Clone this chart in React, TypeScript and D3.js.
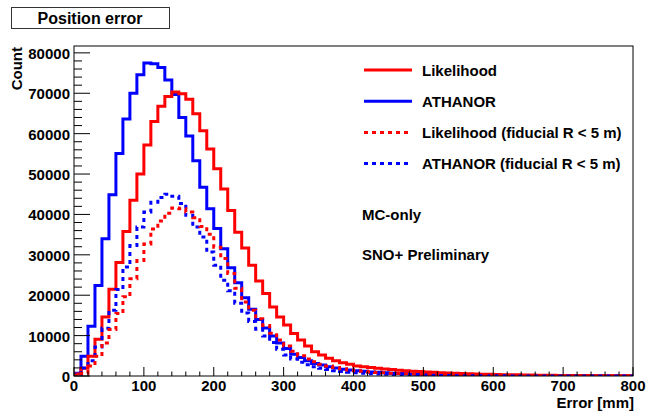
import React from "react";
import * as d3 from "d3";

// bin edges: 0..800 mm in 10 mm bins
const binWidth = 10;
const xTicks = [0, 100, 200, 300, 400, 500, 600, 700, 800];
const yTicks = [0, 10000, 20000, 30000, 40000, 50000, 60000, 70000, 80000];

const likelihood = [
  500, 1900, 4900, 9100, 14600, 21500, 28100, 35800, 43500, 50000,
  57200, 63000, 66800, 69200, 70300, 69900, 68500, 64900, 60700, 56200,
  51300, 46300, 41000, 35600, 31700, 27400, 23500, 20400, 17100, 14600,
  12600, 10500, 8900, 7400, 6000, 5200, 4400, 3800, 3300, 2900,
  2500, 2300, 2100, 1900, 1750, 1600, 1450, 1300, 1200, 1100,
  1000, 900, 820, 750, 680, 620, 560, 510, 460, 420,
  380, 340, 310, 280, 250, 230, 210, 190, 170, 150,
  140, 125, 110, 100, 90, 80, 72, 65, 58, 52,
];

const athanor = [
  700, 4900, 12300, 22400, 34000, 44900, 55100, 63600, 70000, 74600,
  77500, 77300, 76400, 73300, 69700, 64000, 59400, 53300, 46700, 41400,
  36500, 31500, 26800, 23100, 19400, 16500, 14000, 11900, 9900, 8200,
  6800, 5400, 4600, 3800, 3100, 2700, 2300, 2000, 1700, 1500,
  1300, 1150, 1000, 900, 800, 700, 620, 550, 490, 430,
  380, 340, 300, 265, 235, 210, 185, 165, 145, 130,
  115, 100, 90, 80, 70, 62, 55, 48, 43, 38,
  34, 30, 26, 23, 20, 18, 16, 14, 12, 10,
];

const likelihoodFid = [
  200, 700, 2500, 4900, 8200, 11500, 15500, 19600, 24100, 28600,
  32700, 36400, 38400, 40300, 41600, 41400, 40600, 39200, 37000, 35100,
  31900, 29100, 25400, 21700, 18300, 16300, 14200, 12500, 10600, 8900,
  7400, 6100, 5000, 4200, 3500, 2900, 2500, 2100, 1800, 1500,
  1300, 1150, 1000, 880, 780, 690, 610, 540, 480, 420,
  370, 330, 290, 255, 225, 200, 175, 155, 135, 120,
  105, 93, 82, 72, 64, 56, 50, 44, 39, 34,
  30, 27, 24, 21, 18, 16, 14, 12, 11, 10,
];

const athanorFid = [
  300, 2000, 3800, 7200, 11800, 16300, 21400, 27000, 32300, 36900,
  40600, 43000, 44200, 45000, 44500, 42700, 39800, 36900, 34400, 30700,
  27400, 23700, 21100, 18000, 15600, 13500, 11600, 9900, 8300, 6600,
  5200, 4200, 3400, 2800, 2300, 1900, 1600, 1300, 1100, 950,
  800, 680, 580, 500, 430, 370, 320, 275, 235, 200,
  170, 145, 125, 107, 92, 79, 68, 58, 50, 43,
  37, 32, 27, 23, 20, 17, 15, 13, 11, 9,
  8, 7, 6, 5, 4, 4, 3, 3, 2, 2,
];

const legendLabels = [
  "Likelihood",
  "ATHANOR",
  "Likelihood (fiducial R < 5 m)",
  "ATHANOR (fiducial R < 5 m)",
];

const font = "'Liberation Sans', Arial, Helvetica, sans-serif";

export default function App() {
  const x = d3.scaleLinear().domain([0, 800]).range([74, 633]);
  const y = d3.scaleLinear().domain([0, 81700]).range([376, 46]);

  const step = (vals: number[]) => {
    const pts: [number, number][] = [[0, 0]];
    vals.forEach((v, i) => {
      pts.push([i * binWidth, v]);
      pts.push([(i + 1) * binWidth, v]);
    });
    return d3.line<[number, number]>().x((d) => x(d[0])).y((d) => y(d[1]))(pts) || "";
  };

  const series = [
    { data: athanor, color: "#0000ff", dash: undefined },
    { data: likelihood, color: "#ff0000", dash: undefined },
    { data: athanorFid, color: "#0000ff", dash: "4 4" },
    { data: likelihoodFid, color: "#ff0000", dash: "4 4" },
  ];
  const legend = [
    { color: "#ff0000", dash: undefined },
    { color: "#0000ff", dash: undefined },
    { color: "#ff0000", dash: "4 4" },
    { color: "#0000ff", dash: "4 4" },
  ];

  const xMinor = d3.range(0, 801, 20);
  const yMinor = d3.range(0, 81001, 2000);

  return (
    <svg
      width={652}
      height={412}
      style={{ position: "absolute", left: 0, top: 0, background: "#fff" }}
      fontFamily={font}
      fontWeight="bold"
    >
      <rect x={0} y={0} width={652} height={412} fill="#fff" />
      <defs>
        <clipPath id="plotClip">
          <rect x={74} y={46} width={559} height={330} />
        </clipPath>
      </defs>

      {/* title box */}
      <rect x={11.5} y={7.5} width={158} height={21} fill="#fff" stroke="#333" strokeWidth={1} />
      <text x={90} y={24} textAnchor="middle" fontSize={16}>Position error</text>

      {/* histograms */}
      <g clipPath="url(#plotClip)">
        {series.map((s, i) => (
          <path key={i} d={step(s.data)} fill="none" stroke={s.color} strokeWidth={3}
            strokeDasharray={s.dash} />
        ))}
      </g>

      {/* frame */}
      <rect x={74} y={46} width={559} height={330} fill="none" stroke="#000" strokeWidth={1} />

      {/* x axis ticks */}
      {xMinor.map((v) => (
        <line key={"xm" + v} x1={x(v)} x2={x(v)} y1={376} y2={v % 100 === 0 ? 367 : 371.5}
          stroke="#000" strokeWidth={1} />
      ))}
      {xTicks.map((v) => (
        <text key={"xl" + v} x={x(v)} y={391} textAnchor="middle" fontSize={15}>{v}</text>
      ))}
      <text x={634} y={408} textAnchor="end" fontSize={15}>Error [mm]</text>

      {/* y axis ticks */}
      {yMinor.filter((v) => v <= 81700).map((v) => (
        <line key={"ym" + v} x1={74} x2={v % 10000 === 0 ? 90 : 82} y1={y(v)} y2={y(v)}
          stroke="#000" strokeWidth={1} />
      ))}
      {yTicks.map((v) => (
        <text key={"yl" + v} x={70} y={y(v) + 6} textAnchor="end" fontSize={15}>{v}</text>
      ))}
      <text transform="translate(22,47) rotate(-90)" textAnchor="end" fontSize={15}>Count</text>

      {/* legend */}
      {legendLabels.map((lab, i) => {
        const ly = 70 + i * 31.2;
        return (
          <g key={lab}>
            <line x1={364} x2={412} y1={ly} y2={ly} stroke={legend[i].color} strokeWidth={3}
              strokeDasharray={legend[i].dash} />
            <text x={422} y={ly + 5.5} fontSize={15}>{lab}</text>
          </g>
        );
      })}

      <text x={362} y={220} fontSize={15}>MC-only</text>
      <text x={362} y={260} fontSize={15}>SNO+ Preliminary</text>
    </svg>
  );
}
